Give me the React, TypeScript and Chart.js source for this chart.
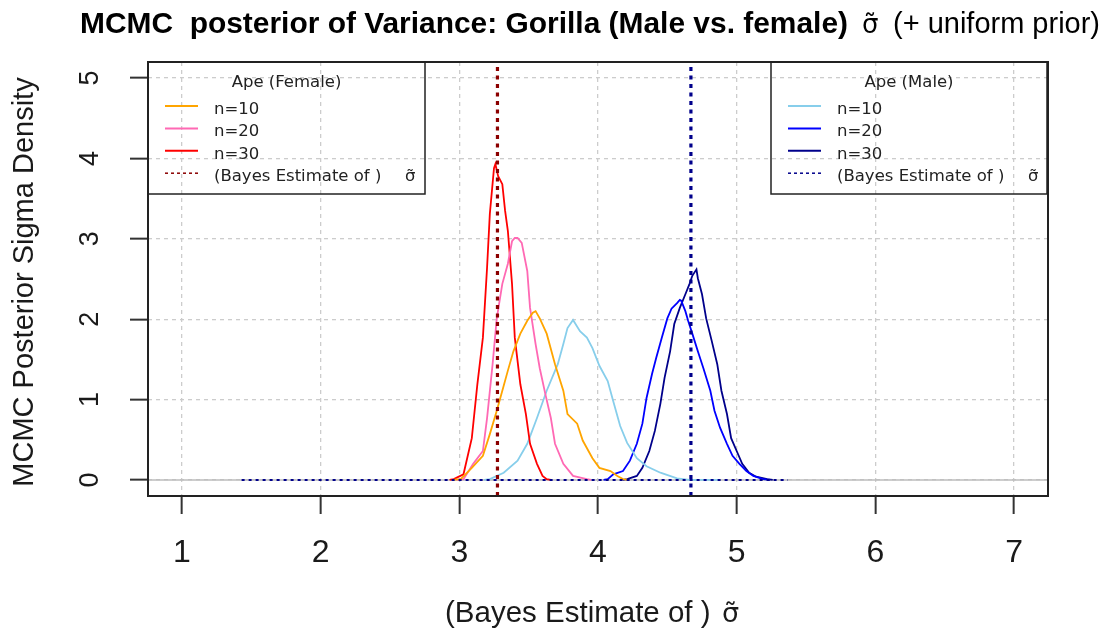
import React, { useEffect, useRef } from "react";
import { Chart, registerables } from "chart.js";
Chart.register(...registerables);

// ---- axes ----
const xTicks = [1, 2, 3, 4, 5, 6, 7];
const yTicks = [0, 1, 2, 3, 4, 5];
const xRange = [0.755, 7.245];
const yRange = [-0.2, 5.2];

// ---- Female (Ape) posterior densities ----
const femaleN10X = [2.95, 3.01, 3.09, 3.17, 3.22, 3.27, 3.31, 3.35, 3.39, 3.44, 3.49, 3.53, 3.55, 3.58, 3.63, 3.69, 3.75, 3.78, 3.85, 3.89, 3.96, 4.01, 4.09, 4.14, 4.18, 4.22];
const femaleN10Y = [0, 0.01, 0.15, 0.3, 0.57, 0.86, 1.11, 1.36, 1.6, 1.82, 1.98, 2.08, 2.1, 2.01, 1.82, 1.44, 1.11, 0.82, 0.7, 0.49, 0.27, 0.15, 0.11, 0.05, 0.01, 0];

const femaleN20X = [2.98, 3.03, 3.1, 3.17, 3.2, 3.24, 3.27, 3.31, 3.35, 3.38, 3.4, 3.42, 3.45, 3.49, 3.51, 3.55, 3.58, 3.62, 3.66, 3.69, 3.75, 3.82, 3.92, 3.95];
const femaleN20Y = [0, 0.01, 0.2, 0.36, 0.77, 1.44, 2.01, 2.44, 2.69, 2.97, 3.01, 3.01, 2.95, 2.6, 2.14, 1.69, 1.39, 1.07, 0.77, 0.45, 0.2, 0.05, 0.01, 0];

const femaleN30X = [2.93, 2.96, 3.03, 3.09, 3.13, 3.17, 3.2, 3.22, 3.25, 3.26, 3.28, 3.31, 3.33, 3.35, 3.38, 3.4, 3.44, 3.48, 3.51, 3.56, 3.6, 3.63, 3.66];
const femaleN30Y = [0, 0.01, 0.07, 0.52, 1.19, 1.77, 2.64, 3.31, 3.88, 3.93, 3.78, 3.68, 3.35, 3.1, 2.44, 1.77, 1.19, 0.82, 0.45, 0.2, 0.05, 0.01, 0];

// ---- Male (Ape) posterior densities ----
const maleN10X = [3.18, 3.22, 3.32, 3.42, 3.49, 3.56, 3.63, 3.71, 3.75, 3.78, 3.82, 3.87, 3.92, 3.96, 4.01, 4.07, 4.11, 4.16, 4.21, 4.28, 4.35, 4.45, 4.57, 4.66, 4.88];
const maleN10Y = [0, 0.01, 0.09, 0.24, 0.45, 0.77, 1.11, 1.44, 1.69, 1.89, 1.99, 1.85, 1.77, 1.64, 1.42, 1.23, 0.98, 0.67, 0.46, 0.27, 0.17, 0.09, 0.02, 0, 0];

const maleN20X = [4.04, 4.07, 4.11, 4.18, 4.23, 4.28, 4.32, 4.35, 4.39, 4.42, 4.46, 4.5, 4.53, 4.57, 4.59, 4.6, 4.63, 4.65, 4.68, 4.72, 4.76, 4.81, 4.84, 4.88, 4.93, 4.97, 5.02, 5.07, 5.12, 5.19, 5.24];
const maleN20Y = [0, 0.01, 0.07, 0.11, 0.24, 0.45, 0.7, 1.02, 1.32, 1.52, 1.77, 2.01, 2.13, 2.2, 2.24, 2.23, 2.1, 1.98, 1.82, 1.6, 1.39, 1.11, 0.86, 0.65, 0.45, 0.3, 0.2, 0.11, 0.05, 0.01, 0];

const maleN30X = [4.18, 4.21, 4.28, 4.32, 4.37, 4.41, 4.45, 4.48, 4.52, 4.55, 4.59, 4.63, 4.66, 4.68, 4.71, 4.72, 4.75, 4.78, 4.82, 4.86, 4.89, 4.93, 4.96, 5.0, 5.04, 5.09, 5.14, 5.22, 5.26];
const maleN30Y = [0, 0.01, 0.05, 0.15, 0.36, 0.61, 0.95, 1.27, 1.6, 1.94, 2.14, 2.31, 2.44, 2.54, 2.62, 2.51, 2.31, 2.01, 1.73, 1.44, 1.11, 0.82, 0.52, 0.36, 0.2, 0.09, 0.04, 0.01, 0];

// ---- reference lines ----
const bayesFemale = 3.275;
const bayesMale = 4.67;
const zeroDotX = [1.43, 5.37];
const zeroLineX = [xRange[0], xRange[1]];

// ---- legends ----
const legendLabels = ["n=10", "n=20", "n=30", "(Bayes Estimate of )"];
const femaleColors = ["#FFA500", "#FF69B4", "#FF0000", "#8B0000"];
const maleColors = ["#87CEEB", "#0000FF", "#00008B", "#00008B"];

const SANS = "'Liberation Sans', Arial, sans-serif";
const LEG = "'DejaVu Sans', sans-serif";
const SIGMA = "σ\u0303";

const zip = (xs: number[], ys: number[]) => xs.map((x, i) => ({ x, y: ys[i] }));

function drawLegend(ctx: CanvasRenderingContext2D, left: number, top: number, width: number, height: number, title: string, colors: string[]) {
  ctx.save();
  ctx.strokeStyle = "#222";
  ctx.lineWidth = 1.5;
  ctx.setLineDash([]);
  ctx.strokeRect(left, top, width, height);
  ctx.fillStyle = "#222";
  ctx.font = `16.5px ${LEG}`;
  ctx.textAlign = "center";
  ctx.textBaseline = "alphabetic";
  ctx.fillText(title, left + width / 2, top + 25);
  ctx.textAlign = "left";
  for (let i = 0; i < legendLabels.length; i++) {
    const ly = top + 44 + i * 22.4;
    ctx.beginPath();
    ctx.strokeStyle = colors[i];
    ctx.lineWidth = i === 3 ? 1.5 : 2;
    ctx.setLineDash(i === 3 ? [3, 3] : []);
    ctx.moveTo(left + 17, ly);
    ctx.lineTo(left + 50, ly);
    ctx.stroke();
    ctx.fillStyle = "#222";
    ctx.fillText(legendLabels[i], left + 66, ly + 8);
    if (i === 3) {
      ctx.fillText(SIGMA, left + 257, ly + 8);
    }
  }
  ctx.restore();
}

const decorPlugin = {
  id: "decor",
  afterDraw(chart: any) {
    const { ctx, chartArea: ca, scales } = chart;
    const xs = scales.x;
    const ys = scales.y;
    ctx.save();
    // plot box
    ctx.strokeStyle = "#222";
    ctx.lineWidth = 2;
    ctx.setLineDash([]);
    ctx.strokeRect(ca.left, ca.top, ca.right - ca.left, ca.bottom - ca.top);

    ctx.fillStyle = "#1a1a1a";
    // x tick labels
    ctx.font = `32px ${SANS}`;
    ctx.textAlign = "center";
    ctx.textBaseline = "alphabetic";
    xs.ticks.forEach((t: any) => {
      ctx.fillText(String(t.value), xs.getPixelForValue(t.value), ca.bottom + 66);
    });
    // y tick labels (rotated)
    ctx.font = `27px ${SANS}`;
    ys.ticks.forEach((t: any) => {
      const py = ys.getPixelForValue(t.value);
      ctx.save();
      ctx.translate(ca.left - 50, py);
      ctx.rotate(-Math.PI / 2);
      ctx.fillText(String(t.value), 0, 0);
      ctx.restore();
    });
    // y axis title
    ctx.font = `29px ${SANS}`;
    ctx.save();
    ctx.translate(33, (ca.top + ca.bottom) / 2 + 3);
    ctx.rotate(-Math.PI / 2);
    ctx.fillText("MCMC Posterior Sigma Density", 0, 0);
    ctx.restore();
    // x axis title
    ctx.textAlign = "left";
    ctx.font = `29.5px ${SANS}`;
    ctx.fillText("(Bayes Estimate of )", 445, 622, 268);
    ctx.font = `27px ${LEG}`;
    ctx.fillText(SIGMA, 722, 622);
    // main title
    ctx.fillStyle = "#000";
    ctx.font = `bold 30px ${SANS}`;
    ctx.fillText("MCMC  posterior of Variance: Gorilla (Male vs. female)", 80, 33, 768);
    ctx.font = `26px ${LEG}`;
    ctx.fillText(SIGMA, 862, 33);
    ctx.font = `29px ${SANS}`;
    ctx.fillText("(+ uniform prior)", 893, 33, 207);

    // legends
    drawLegend(ctx, ca.left, ca.top, 277, 132, "Ape (Female)", femaleColors);
    drawLegend(ctx, ca.right - 277, ca.top, 276, 132, "Ape (Male)", maleColors);
    ctx.restore();
  },
};

export default function App() {
  const ref = useRef<HTMLCanvasElement | null>(null);
  useEffect(() => {
    document.body.style.margin = "0";
    if (!ref.current) return;
    const curve = (label: string, xs: number[], ys: number[], color: string, w: number) => ({
      label,
      data: zip(xs, ys),
      borderColor: color,
      borderWidth: w,
      pointRadius: 0,
      tension: 0,
      fill: false,
      order: 5,
    });
    const chart = new Chart(ref.current, {
      type: "line",
      data: {
        datasets: [
          { label: "zero", data: zip(zeroLineX, [0, 0]), borderColor: "#bdbdbd", borderWidth: 1.5, pointRadius: 0, order: 10 },
          curve("Female n=10", femaleN10X, femaleN10Y, "#FFA500", 1.8),
          curve("Female n=20", femaleN20X, femaleN20Y, "#FF69B4", 1.8),
          curve("Female n=30", femaleN30X, femaleN30Y, "#FF0000", 1.8),
          curve("Male n=10", maleN10X, maleN10Y, "#87CEEB", 1.8),
          curve("Male n=20", maleN20X, maleN20Y, "#0000FF", 1.8),
          curve("Male n=30", maleN30X, maleN30Y, "#00008B", 1.8),
          { label: "zeroDot", data: zip(zeroDotX, [0, 0]), borderColor: "#00008B", borderWidth: 2, borderDash: [3, 4], pointRadius: 0, order: 3 },
          { label: "Bayes female", data: zip([bayesFemale, bayesFemale], yRange), borderColor: "#8B0000", borderWidth: 3.2, borderDash: [4, 4.5], pointRadius: 0, order: 1 },
          { label: "Bayes male", data: zip([bayesMale, bayesMale], yRange), borderColor: "#00008B", borderWidth: 3.2, borderDash: [4, 4.5], pointRadius: 0, order: 1 },
        ],
      },
      options: {
        responsive: false,
        animation: false,
        devicePixelRatio: 1,
        layout: { padding: { left: 0, top: 62, right: 72, bottom: 0 } },
        plugins: { legend: { display: false }, tooltip: { enabled: false }, title: { display: false } },
        scales: {
          x: {
            type: "linear",
            min: xRange[0],
            max: xRange[1],
            afterBuildTicks: (s: any) => { s.ticks = xTicks.map((v) => ({ value: v })); },
            afterFit: (s: any) => { s.height = 139; },
            ticks: { display: false },
            grid: { color: "#cccccc", lineWidth: 1.3, drawTicks: true, tickLength: 18, tickColor: "#333", tickWidth: 2, tickBorderDash: [] },
            border: { display: false, dash: [4, 4] },
          },
          y: {
            type: "linear",
            min: yRange[0],
            max: yRange[1],
            afterBuildTicks: (s: any) => { s.ticks = yTicks.map((v) => ({ value: v })); },
            afterFit: (s: any) => { s.width = 148; },
            ticks: { display: false },
            grid: { color: "#cccccc", lineWidth: 1.3, drawTicks: true, tickLength: 18, tickColor: "#333", tickWidth: 2, tickBorderDash: [] },
            border: { display: false, dash: [4, 4] },
          },
        },
      } as any,
      plugins: [decorPlugin as any],
    });
    return () => chart.destroy();
  }, []);
  return (
    <div style={{ width: 1120, height: 635, background: "#fff" }}>
      <canvas ref={ref} width={1120} height={635} style={{ display: "block" }} />
    </div>
  );
}
